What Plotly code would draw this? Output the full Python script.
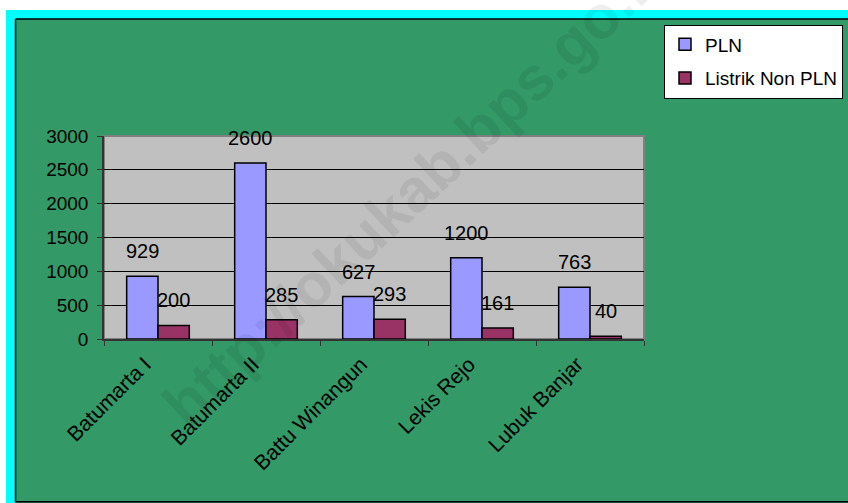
import plotly.graph_objects as go

# ---- data ----
categories = ["Batumarta I", "Batumarta II", "Battu Winangun", "Lekis Rejo", "Lubuk Banjar"]
pln = [929, 2600, 627, 1200, 763]
non_pln = [200, 285, 293, 161, 40]
series_names = ["PLN", "Listrik Non PLN"]
y_ticks = [0, 500, 1000, 1500, 2000, 2500, 3000]
watermark = "http://okukab.bps.go.id"

# ---- layout geometry (screen pixels) ----
W, H = 848, 503
L, R, T, B = 104, 644, 136, 339          # plot area
FONT = "Liberation Sans, Arial, sans-serif"
BARGAP = 0.42
GREEN = "#339966"
CYAN = "#00FFFF"


def px_x(p):
    return (p - L) / (R - L)


def px_y(p):
    return (B - p) / (B - T)


fig = go.Figure()
colors = ["#9999FF", "#993366"]
for name, vals, col, grp in zip(series_names, [pln, non_pln], colors, ["a", "b"]):
    fig.add_trace(go.Bar(
        x=categories, y=vals, name=name, legendgroup=grp,
        marker=dict(color=col, line=dict(color="black", width=1.5)),
        hoverinfo="skip",
    ))

# data labels above bars
half = (1 - BARGAP) / 4
annotations = []
for s, vals in enumerate([pln, non_pln]):
    off = -half if s == 0 else half
    for i, v in enumerate(vals):
        annotations.append(dict(
            x=i + off, y=v, xref="x", yref="y", text=str(v), showarrow=False,
            yanchor="middle", xanchor="center", yshift=25,
            font=dict(family=FONT, size=20, color="black"),
        ))

# watermark
annotations.append(dict(
    x=px_x(418), y=px_y(186), xref="paper", yref="paper", text="<b>" + watermark + "</b>",
    showarrow=False, textangle=-43, xanchor="center", yanchor="middle",
    font=dict(family=FONT, size=61, color="rgba(0,0,0,0.065)"),
))


def rect(x0, x1, y0, y1, fill):
    return dict(type="rect", xref="paper", yref="paper",
                x0=px_x(x0), x1=px_x(x1), y0=px_y(y0), y1=px_y(y1),
                fillcolor=fill, line=dict(width=0), layer="below")


def seg(x0, x1, y0, y1):
    return dict(type="line", xref="paper", yref="paper",
                x0=px_x(x0), x1=px_x(x1), y0=px_y(y0), y1=px_y(y1),
                line=dict(color="black", width=1.5), layer="below")


shapes = [
    rect(-5, 860, -5, 10, "white"),           # white strip at the top
    rect(-5, 6, -5, 520, "white"),            # white strip at the left
    rect(6, 860, 10, 19, CYAN),               # cyan frame, top
    rect(6, 15.5, 10, 520, CYAN),             # cyan frame, left
    seg(15.5, 860, 19, 19),                   # black edge of the green area
    seg(15.5, 15.5, 19, 502),
    seg(15.5, 860, 501.8, 501.8),
    dict(type="rect", xref="paper", yref="paper", x0=0, x1=1, y0=0, y1=1,
         fillcolor="#C0C0C0", line=dict(color="#808080", width=2), layer="below"),
]

fig.update_layout(
    width=W, height=H,
    margin=dict(l=L, r=W - R, t=T, b=H - B, pad=0, autoexpand=False),
    paper_bgcolor=GREEN, plot_bgcolor="rgba(0,0,0,0)",
    barmode="group", bargap=BARGAP, bargroupgap=0,
    font=dict(family=FONT, size=19, color="black"),
    showlegend=True,
    legend=dict(
        x=px_x(664), y=px_y(24.5), xanchor="left", yanchor="top",
        bgcolor="white", bordercolor="black", borderwidth=1,
        font=dict(family=FONT, size=19, color="black"),
        tracegroupgap=6,
    ),
    xaxis=dict(
        type="category", categoryorder="array", categoryarray=categories,
        tickangle=-45, ticks="outside", ticklen=5, tickcolor="#333", tickson="boundaries",
        ticklabelshift=-13, ticklabelstandoff=3,
        showline=True, linecolor="#333", linewidth=1.5, showgrid=False,
        tickfont=dict(family=FONT, size=21, color="black"),
        fixedrange=True,
    ),
    yaxis=dict(
        range=[0, 3000], tickvals=y_ticks, ticks="outside", ticklen=5, tickcolor="#333",
        ticklabelstandoff=5,
        showline=True, linecolor="#333", linewidth=1.5,
        showgrid=True, gridcolor="black", gridwidth=1, zeroline=False,
        tickfont=dict(family=FONT, size=19, color="black"),
        fixedrange=True,
    ),
    annotations=annotations,
    shapes=shapes,
)

fig.write_html(
    "out.html",
    config={"displayModeBar": False},
    post_script=(
        "document.documentElement.style.overflow='hidden';"
        "document.body.style.overflow='hidden';"
        "document.body.style.margin='0';"
    ),
)
